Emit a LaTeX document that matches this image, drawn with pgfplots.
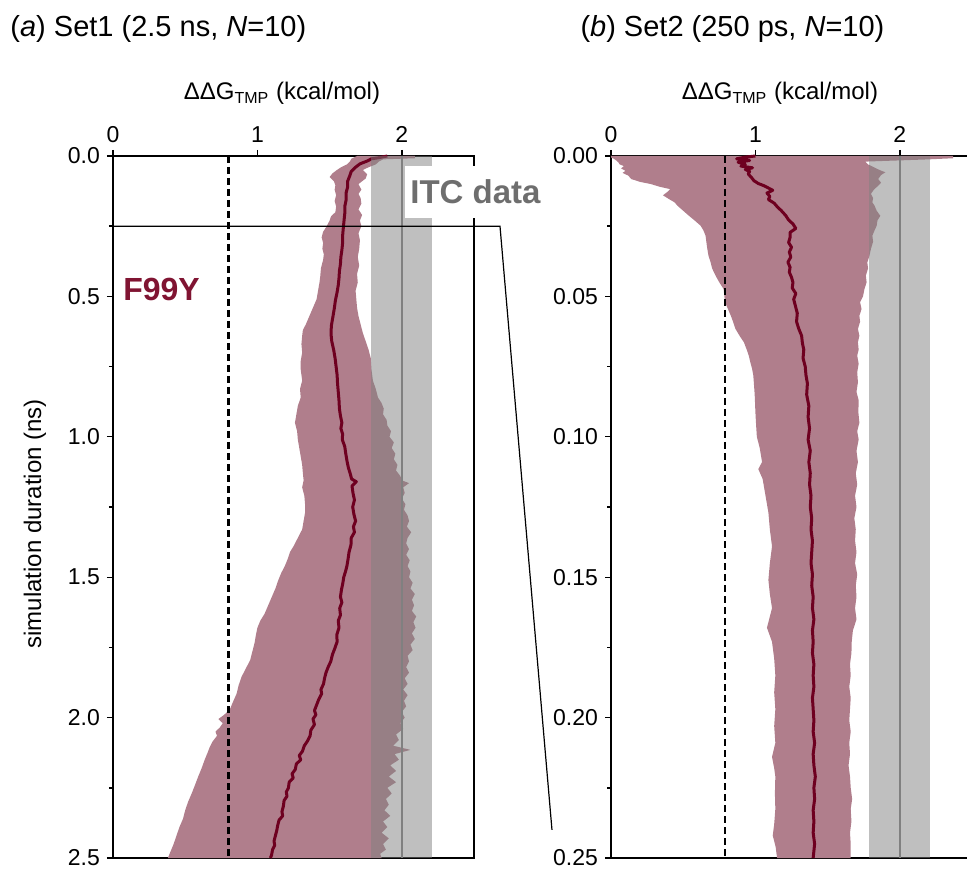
\documentclass[border=0pt]{standalone}
\usepackage{fontspec}
\setmainfont{Liberation Sans}
\usepackage{pgfplots}
\pgfplotsset{compat=1.18}

\definecolor{bandpink}{RGB}{176,126,140}
\definecolor{meanred}{RGB}{110,0,32}
\definecolor{labelred}{RGB}{128,20,50}
\definecolor{itcgray}{RGB}{110,110,110}
\definecolor{bandgray}{RGB}{128,128,128}

\pgfplotsset{
  panel/.style={
    scale only axis, width=180.5pt, height=351pt,
    xmin=0, xmax=2.5, ymin=0, y dir=reverse,
    xtick={0,1,2}, xtick pos=upper, xticklabel pos=upper,
    ytick pos=left, tick align=outside,
    minor y tick num=1,
    major tick length=3pt, minor tick length=2pt,
    axis line style={line width=0.7pt},
    every tick/.style={black, line width=0.7pt},
    tick label style={font=\fontsize{11.5}{13}\selectfont},
    /pgf/number format/assume math mode=true,
    clip=false,
  },
  band/.style={fill=bandpink, draw=none},
  meanline/.style={color=meanred, line width=1.5pt, line join=round},
  itcband/.style={fill=bandgray, fill opacity=0.5, draw=none},
  refline/.style={black, line width=1.2pt, dash pattern=on 3.5pt off 2pt},
}

\begin{document}
\begin{tikzpicture}
\useasboundingbox (-56.5pt,-6pt) rectangle (427pt,429pt);

% ---------- (a) Set1
\begin{axis}[panel, ymax=2.5,
    ytick={0,0.5,1,1.5,2,2.5},
    yticklabel style={/pgf/number format/.cd, fixed, fixed zerofill, precision=1}]
    % spread over the 10 runs: right edge down, left edge back up
    \addplot[band] coordinates {
        (2.09,0.000) (2.09,0.008) (1.87,0.012) (1.84,0.020) (1.82,0.030) (1.77,0.040)
        (1.73,0.050) (1.76,0.065) (1.75,0.080) (1.70,0.100) (1.72,0.120) (1.70,0.135)
        (1.715,0.150) (1.72,0.170) (1.70,0.190) (1.725,0.210) (1.71,0.230) (1.72,0.250)
        (1.70,0.275) (1.71,0.300) (1.705,0.330) (1.695,0.360) (1.705,0.390) (1.69,0.420)
        (1.695,0.450) (1.68,0.480) (1.685,0.510) (1.69,0.540) (1.70,0.570) (1.715,0.600)
        (1.73,0.630) (1.75,0.660) (1.77,0.690) (1.785,0.720) (1.79,0.760) (1.80,0.800)
        (1.82,0.830) (1.835,0.860) (1.86,0.880) (1.875,0.900) (1.87,0.920) (1.895,0.940)
        (1.90,0.960) (1.925,0.980) (1.915,1.000) (1.945,1.020) (1.93,1.040) (1.955,1.060)
        (1.945,1.080) (1.97,1.100) (1.96,1.120) (1.99,1.140) (2.00,1.155) (2.05,1.165)
        (2.01,1.180) (2.02,1.200) (2.00,1.220) (2.025,1.240) (2.015,1.260) (2.04,1.280)
        (2.05,1.300) (2.035,1.320) (2.065,1.340) (2.04,1.360) (2.03,1.380) (2.05,1.400)
        (2.03,1.420) (2.055,1.440) (2.04,1.460) (2.06,1.480) (2.05,1.500) (2.075,1.520)
        (2.06,1.540) (2.09,1.560) (2.07,1.580) (2.085,1.600) (2.07,1.620) (2.10,1.640)
        (2.08,1.660) (2.095,1.680) (2.07,1.700) (2.09,1.720) (2.06,1.740) (2.075,1.760)
        (2.04,1.780) (2.05,1.800) (2.03,1.820) (2.05,1.840) (2.02,1.860) (2.04,1.880)
        (2.01,1.900) (2.04,1.920) (2.015,1.940) (2.03,1.960) (2.00,1.980) (2.02,2.000)
        (1.99,2.020) (2.01,2.040) (1.96,2.060) (1.98,2.080) (1.94,2.100) (2.06,2.115)
        (1.95,2.130) (1.98,2.150) (1.92,2.170) (1.96,2.190) (1.91,2.210) (1.96,2.230)
        (1.90,2.250) (1.93,2.270) (1.89,2.290) (1.91,2.310) (1.88,2.330) (1.92,2.350)
        (1.87,2.370) (1.90,2.390) (1.86,2.410) (1.91,2.430) (1.87,2.450) (1.89,2.470)
        (1.85,2.485) (1.86,2.500)
        (0.38,2.500) (0.40,2.475) (0.42,2.450) (0.44,2.420) (0.46,2.390) (0.485,2.360)
        (0.50,2.330) (0.52,2.300) (0.545,2.270) (0.568,2.240) (0.59,2.210) (0.614,2.180)
        (0.635,2.150) (0.655,2.125) (0.67,2.105) (0.69,2.085) (0.72,2.065) (0.71,2.050)
        (0.74,2.035) (0.76,2.020) (0.73,2.005) (0.77,1.990) (0.81,1.970) (0.83,1.945)
        (0.856,1.915) (0.87,1.885) (0.89,1.855) (0.92,1.825) (0.95,1.795) (0.965,1.765)
        (0.98,1.735) (0.99,1.705) (1.00,1.680) (1.02,1.655) (1.05,1.630) (1.075,1.600)
        (1.10,1.570) (1.125,1.540) (1.145,1.510) (1.165,1.485) (1.19,1.460) (1.21,1.435)
        (1.226,1.410) (1.25,1.390) (1.27,1.370) (1.29,1.350) (1.31,1.330) (1.32,1.300)
        (1.33,1.270) (1.33,1.240) (1.325,1.210) (1.31,1.180) (1.32,1.155) (1.315,1.130)
        (1.31,1.100) (1.30,1.070) (1.29,1.040) (1.28,1.010) (1.275,0.980) (1.26,0.950)
        (1.27,0.920) (1.28,0.890) (1.30,0.860) (1.295,0.830) (1.31,0.800) (1.30,0.760)
        (1.30,0.730) (1.31,0.700) (1.305,0.670) (1.31,0.640) (1.315,0.620) (1.335,0.600)
        (1.36,0.570) (1.385,0.540) (1.41,0.510) (1.42,0.480) (1.43,0.450) (1.435,0.430)
        (1.44,0.400) (1.455,0.370) (1.46,0.350) (1.45,0.330) (1.455,0.310) (1.445,0.290)
        (1.455,0.270) (1.48,0.250) (1.50,0.230) (1.51,0.215) (1.54,0.200) (1.545,0.180)
        (1.535,0.160) (1.545,0.140) (1.535,0.120) (1.54,0.105) (1.53,0.090) (1.50,0.075)
        (1.52,0.062) (1.55,0.050) (1.58,0.040) (1.62,0.030) (1.64,0.020) (1.65,0.010)
        (1.69,0.000)
    };
    % mean over the 10 runs
    \addplot[meanline] coordinates {
        (1.90,0.000) (1.84,0.006) (1.79,0.010) (1.76,0.018) (1.71,0.028) (1.68,0.040)
        (1.65,0.055) (1.64,0.070) (1.625,0.090) (1.625,0.110) (1.615,0.130) (1.615,0.155)
        (1.605,0.180) (1.605,0.205) (1.600,0.230) (1.595,0.255) (1.590,0.285) (1.590,0.310)
        (1.585,0.335) (1.578,0.360) (1.575,0.385) (1.568,0.410) (1.565,0.435) (1.560,0.460)
        (1.552,0.485) (1.540,0.515) (1.532,0.545) (1.522,0.575) (1.512,0.605) (1.510,0.635)
        (1.515,0.660) (1.528,0.690) (1.538,0.720) (1.545,0.750) (1.552,0.780) (1.555,0.810)
        (1.560,0.840) (1.565,0.870) (1.568,0.900) (1.575,0.925) (1.585,0.950) (1.578,0.970)
        (1.590,0.990) (1.588,1.010) (1.605,1.035) (1.612,1.060) (1.620,1.085) (1.630,1.110)
        (1.645,1.135) (1.652,1.150) (1.685,1.160) (1.655,1.175) (1.662,1.200) (1.672,1.225)
        (1.660,1.250) (1.668,1.275) (1.680,1.300) (1.665,1.320) (1.672,1.340) (1.650,1.360)
        (1.648,1.385) (1.635,1.410) (1.628,1.435) (1.620,1.460) (1.610,1.480) (1.598,1.500)
        (1.592,1.520) (1.582,1.545) (1.575,1.570) (1.585,1.590) (1.570,1.610) (1.575,1.635)
        (1.560,1.655) (1.565,1.680) (1.550,1.705) (1.552,1.730) (1.535,1.755) (1.520,1.775)
        (1.508,1.800) (1.490,1.820) (1.475,1.840) (1.465,1.860) (1.458,1.880) (1.440,1.900)
        (1.445,1.915) (1.425,1.935) (1.410,1.955) (1.395,1.975) (1.405,1.990) (1.385,2.005)
        (1.395,2.025) (1.370,2.045) (1.365,2.065) (1.345,2.085) (1.325,2.100) (1.312,2.120)
        (1.290,2.135) (1.300,2.150) (1.270,2.165) (1.262,2.185) (1.240,2.200) (1.248,2.215)
        (1.220,2.230) (1.215,2.250) (1.200,2.265) (1.205,2.280) (1.185,2.295) (1.180,2.315)
        (1.170,2.335) (1.175,2.350) (1.150,2.365) (1.140,2.385) (1.135,2.400) (1.125,2.420)
        (1.115,2.440) (1.120,2.455) (1.105,2.470) (1.098,2.490) (1.090,2.500)
    };
    % ITC value 2.0 +- 0.21
    \addplot[itcband] coordinates {(1.79,0) (2.21,0) (2.21,2.5) (1.79,2.5)};
    \addplot[color=bandgray, line width=1pt] coordinates {(2,0) (2,2.5)};
    \addplot[refline] coordinates {(0.8,0) (0.8,2.5)};

    \draw[line width=0.6pt] (axis cs:0,0.25) -- (axis cs:2.68,0.25) -- (axis cs:3.04,2.40);
    \node[anchor=base west, inner sep=0pt] at (axis cs:-0.713,-0.424)
        {\fontsize{14.5}{16}\selectfont(\textit{a}) Set1 (2.5 ns, \textit{N}=10)};
    \node[anchor=base, inner sep=0pt, yshift=28pt] at (axis cs:1.17,0)
        {\fontsize{12}{14}\selectfont ΔΔG\textsubscript{TMP} (kcal/mol)};
    \node[rotate=90, inner sep=0pt] at (axis cs:-0.54,1.31)
        {\fontsize{12}{14}\selectfont simulation duration (ns)};
    \node[anchor=base west, inner sep=0pt, text=labelred] at (axis cs:0.069,0.513)
        {\fontsize{16}{18}\selectfont\bfseries F99Y};
    \coordinate (itc) at (axis cs:2.022,0.128);
\end{axis}

\node[anchor=west, fill=white, inner xsep=2.5pt, inner ysep=0pt, minimum height=26pt,
      text=itcgray] at (itc) {\fontsize{16.5}{18}\selectfont\bfseries ITC data};

% ---------- (b) Set2
\begin{axis}[panel, at={(249pt,0pt)}, ymax=0.25,
    ytick={0,0.05,0.1,0.15,0.2,0.25},
    yticklabel style={/pgf/number format/.cd, fixed, fixed zerofill, precision=2}]
    \addplot[band] coordinates {
        (2.37,0.0000) (2.37,0.0008) (2.20,0.0012) (1.76,0.0020) (1.78,0.0030) (1.82,0.0040)
        (1.86,0.0050) (1.90,0.0058) (1.87,0.0068) (1.85,0.0082) (1.87,0.0095) (1.85,0.0106)
        (1.82,0.0120) (1.80,0.0135) (1.815,0.0150) (1.81,0.0165) (1.825,0.0177) (1.84,0.0195)
        (1.865,0.0213) (1.845,0.0230) (1.84,0.0248) (1.825,0.0265) (1.81,0.0284) (1.815,0.0305)
        (1.80,0.0331) (1.79,0.0355) (1.775,0.0379) (1.78,0.0400) (1.765,0.0426) (1.77,0.0450)
        (1.755,0.0474) (1.745,0.0500) (1.725,0.0521) (1.735,0.0545) (1.72,0.0569) (1.725,0.0590)
        (1.71,0.0616) (1.72,0.0640) (1.71,0.0663) (1.715,0.0690) (1.705,0.0711) (1.715,0.0740)
        (1.705,0.0770) (1.71,0.0806) (1.70,0.0840) (1.715,0.0870) (1.713,0.0913) (1.72,0.0950)
        (1.705,0.0980) (1.715,0.1010) (1.70,0.1050) (1.71,0.1090) (1.695,0.1130) (1.705,0.1170)
        (1.69,0.1210) (1.70,0.1250) (1.685,0.1290) (1.695,0.1330) (1.69,0.1370) (1.70,0.1410)
        (1.69,0.1450) (1.705,0.1490) (1.695,0.1530) (1.70,0.1570) (1.69,0.1610) (1.70,0.1650)
        (1.675,0.1690) (1.667,0.1730) (1.665,0.1770) (1.655,0.1810) (1.66,0.1850) (1.65,0.1890)
        (1.66,0.1930) (1.655,0.1970) (1.65,0.2010) (1.66,0.2050) (1.65,0.2090) (1.655,0.2130)
        (1.645,0.2170) (1.655,0.2210) (1.66,0.2250) (1.67,0.2290) (1.66,0.2325) (1.665,0.2370)
        (1.655,0.2410) (1.66,0.2450) (1.66,0.2500)
        (1.15,0.2500) (1.14,0.2460) (1.12,0.2420) (1.13,0.2380) (1.138,0.2325) (1.135,0.2270)
        (1.138,0.2210) (1.13,0.2180) (1.115,0.2140) (1.138,0.2090) (1.13,0.2030) (1.138,0.1970)
        (1.13,0.1910) (1.138,0.1850) (1.13,0.1790) (1.115,0.1730) (1.08,0.1680) (1.115,0.1610)
        (1.10,0.1560) (1.09,0.1510) (1.10,0.1450) (1.115,0.1390) (1.10,0.1330) (1.09,0.1270)
        (1.07,0.1210) (1.05,0.1150) (1.02,0.1115) (1.046,0.1090) (1.03,0.1040) (1.01,0.1000)
        (1.005,0.0960) (1.00,0.0913) (0.995,0.0850) (0.989,0.0806) (0.985,0.0780) (0.977,0.0758)
        (0.965,0.0735) (0.954,0.0711) (0.94,0.0690) (0.92,0.0663) (0.89,0.0640) (0.862,0.0616)
        (0.845,0.0590) (0.83,0.0569) (0.81,0.0545) (0.79,0.0521) (0.785,0.0500) (0.78,0.0474)
        (0.75,0.0450) (0.724,0.0426) (0.70,0.0400) (0.69,0.0379) (0.675,0.0355) (0.667,0.0331)
        (0.66,0.0305) (0.655,0.0284) (0.64,0.0265) (0.62,0.0248) (0.58,0.0230) (0.54,0.0213)
        (0.50,0.0195) (0.46,0.0177) (0.44,0.0165) (0.40,0.0153) (0.36,0.0140) (0.39,0.0128)
        (0.41,0.0118) (0.34,0.0110) (0.276,0.0100) (0.20,0.0092) (0.14,0.0082) (0.12,0.0070)
        (0.08,0.0060) (0.10,0.0053) (0.07,0.0044) (0.09,0.0036) (0.06,0.0030) (0.05,0.0022)
        (0.034,0.0015) (0.02,0.0010) (0.00,0.0005) (0.00,0.0000)
    };
    \addplot[meanline] coordinates {
        (1.00,0.0000) (0.93,0.0004) (0.87,0.0010) (0.96,0.0016) (0.88,0.0022) (0.93,0.0030)
        (0.90,0.0036) (0.98,0.0042) (0.93,0.0048) (0.96,0.0055) (0.95,0.0064) (0.97,0.0075)
        (0.99,0.0088) (1.02,0.0098) (1.06,0.0106) (1.09,0.0114) (1.12,0.0122) (1.08,0.0132)
        (1.10,0.0144) (1.09,0.0155) (1.13,0.0168) (1.15,0.0180) (1.18,0.0195) (1.21,0.0212)
        (1.23,0.0228) (1.26,0.0242) (1.28,0.0258) (1.24,0.0272) (1.24,0.0290) (1.23,0.0308)
        (1.25,0.0325) (1.235,0.0342) (1.245,0.0360) (1.225,0.0378) (1.24,0.0396) (1.235,0.0414)
        (1.25,0.0432) (1.26,0.0450) (1.255,0.0470) (1.28,0.0490) (1.265,0.0510) (1.275,0.0530)
        (1.29,0.0560) (1.285,0.0590) (1.30,0.0615) (1.32,0.0640) (1.325,0.0665) (1.335,0.0690)
        (1.33,0.0720) (1.345,0.0750) (1.35,0.0780) (1.36,0.0810) (1.355,0.0850) (1.37,0.0890)
        (1.365,0.0930) (1.375,0.0970) (1.365,0.1010) (1.38,0.1050) (1.37,0.1090) (1.38,0.1130)
        (1.375,0.1170) (1.385,0.1210) (1.38,0.1250) (1.39,0.1290) (1.385,0.1330) (1.395,0.1370)
        (1.39,0.1410) (1.385,0.1450) (1.395,0.1490) (1.39,0.1530) (1.40,0.1570) (1.395,0.1610)
        (1.405,0.1650) (1.395,0.1690) (1.40,0.1730) (1.395,0.1770) (1.405,0.1810) (1.40,0.1850)
        (1.405,0.1890) (1.395,0.1930) (1.40,0.1970) (1.405,0.2010) (1.40,0.2050) (1.41,0.2090)
        (1.40,0.2130) (1.405,0.2170) (1.415,0.2210) (1.405,0.2250) (1.41,0.2290) (1.40,0.2330)
        (1.405,0.2370) (1.40,0.2410) (1.41,0.2450) (1.40,0.2500)
    };
    \addplot[itcband] coordinates {(1.79,0) (2.21,0) (2.21,0.25) (1.79,0.25)};
    \addplot[color=bandgray, line width=1pt] coordinates {(2,0) (2,0.25)};
    \addplot[refline] coordinates {(0.79,0) (0.79,0.25)};

    \node[anchor=base west, inner sep=0pt] at (axis cs:-0.214,-0.0427)
        {\fontsize{14.5}{16}\selectfont(\textit{b}) Set2 (250 ps, \textit{N}=10)};
    \node[anchor=base, inner sep=0pt, yshift=28pt] at (axis cs:1.17,0)
        {\fontsize{12}{14}\selectfont ΔΔG\textsubscript{TMP} (kcal/mol)};
\end{axis}
\end{tikzpicture}
\end{document}
